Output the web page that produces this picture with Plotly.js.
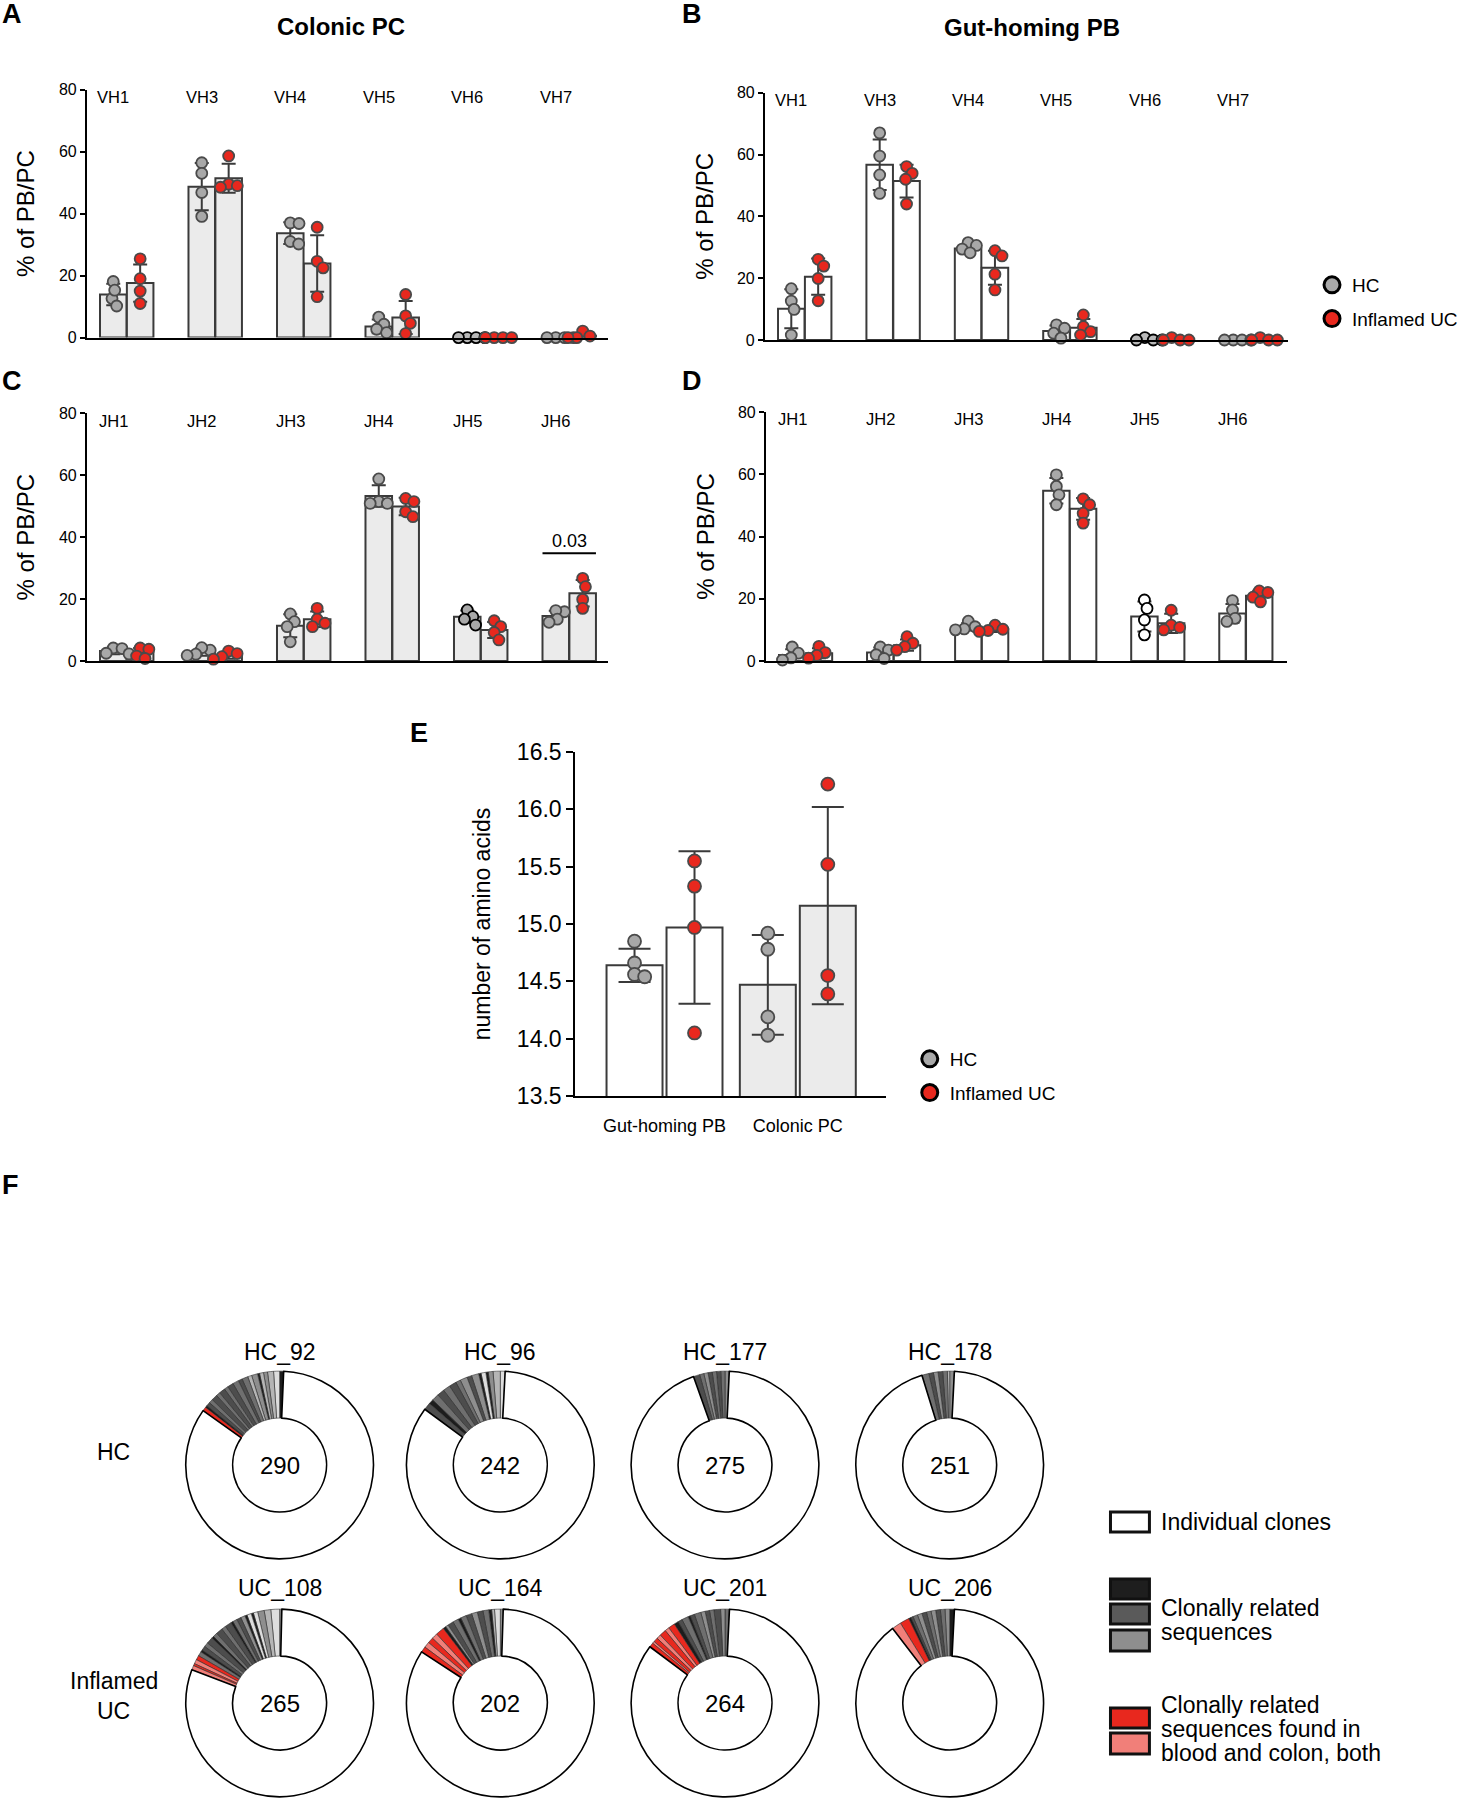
<!DOCTYPE html>
<html><head><meta charset="utf-8">
<script src="https://cdn.plot.ly/plotly-3.0.1.min.js"></script>
<style>html,body{margin:0;padding:0;background:#fff}#chart{width:1463px;height:1800px}</style>
</head><body><div id="chart"></div>
<script>
// ================= DATA =================
const vhGenes = ['VH1','VH3','VH4','VH5','VH6','VH7'];
const jhGenes = ['JH1','JH2','JH3','JH4','JH5','JH6'];

// Panel A – Colonic PC, VH usage (% of PB/PC)
const aHcMean = [13.9, 48.7, 33.7, 3.6, 0, 0];
const aHcSd   = [3.5, 7.6, 3.5, 2.2, 0, 0];
const aUcMean = [17.6, 51.4, 23.9, 6.5, 0, 0.6];
const aUcSd   = [6.0, 4.7, 9.1, 5.3, 0, 0.9];
const aHcPts  = [[18.1,12.6,15.3,10.2],[56.4,53.0,46.8,39.1],[37.0,36.8,31.0,30.2],[6.6,4.3,2.7,1.6],[0,0,0,0],[0,0,0,0]];
const aUcPts  = [[25.4,19.0,15.0,11.0],[58.6,49.5,48.5,49.0],[35.6,24.6,22.5,13.2],[13.9,7.0,4.6,1.3],[0,0,0,0],[2.1,0.5,0,0]];

// Panel B – Gut-homing PB, VH usage
const bHcMean = [10.1, 56.7, 29.6, 2.9, 0.2, 0];
const bHcSd   = [6.3, 8.2, 1.3, 1.8, 0.4, 0];
const bUcMean = [20.5, 51.4, 23.4, 4.0, 0.2, 0.2];
const bUcSd   = [5.9, 5.3, 5.5, 2.8, 0.4, 0.4];
const bHcPts  = [[16.6,12.6,9.9,1.6],[67.0,59.5,53.4,47.4],[31.5,30.6,29.4,28.2],[4.9,3.8,2.2,0.6],[0.8,0,0,0],[0,0,0,0]];
const bUcPts  = [[26.1,23.9,19.9,12.7],[56.1,53.9,52.0,44.0],[28.9,27.2,21.3,16.2],[8.1,4.3,2.7,1.6],[0.8,0,0,0],[0.8,0,0,0]];

// Panel C – Colonic PC, JH usage
const cHcMean = [3.2, 2.9, 11.4, 53.3, 14.3, 14.5];
const cHcSd   = [1.0, 1.2, 3.7, 3.5, 2.0, 1.7];
const cUcMean = [2.6, 1.9, 13.5, 49.9, 10.0, 21.9];
const cUcSd   = [1.6, 1.2, 2.5, 2.8, 2.6, 4.3];
const cHcPts  = [[4.2,4.0,2.5,2.3],[3.5,4.3,2.2,1.8],[15.2,12.7,11.1,6.2],[58.8,51.5,50.9,50.9],[16.5,14.3,13.5,11.6],[15.9,16.3,13.5,12.5]];
const cUcPts  = [[4.2,3.8,1.6,0.8],[3.2,2.4,1.4,0.6],[17.0,13.5,12.2,11.1],[52.5,51.5,48.2,46.6],[13.0,11.1,9.2,6.8],[26.7,24.0,19.9,17.0]];
const cPValueJH6 = '0.03';

// Panel D – Gut-homing PB, JH usage
const dHcMean = [1.9, 2.7, 11.0, 54.7, 14.3, 15.3];
const dHcSd   = [1.9, 1.6, 1.2, 4.1, 4.8, 3.0];
const dUcMean = [2.5, 5.1, 10.2, 48.9, 12.1, 21.0];
const dUcSd   = [1.6, 1.8, 0.9, 3.5, 3.1, 1.6];
const dHcPts  = [[4.5,2.5,1.0,0.3],[4.5,3.5,2.0,0.8],[12.8,11.0,10.3,10.0],[59.8,56.1,53.4,50.2],[19.6,16.9,13.2,8.4],[19.4,16.4,13.7,12.7]];
const dUcPts  = [[4.7,2.7,1.8,0.9],[7.8,5.7,4.6,3.5],[11.5,10.2,9.8,9.5],[52.1,50.2,47.5,44.3],[16.3,11.5,10.8,10.0],[22.5,22.0,20.5,19.0]];

// Panel E – CDR3 length (number of amino acids)
const eCats   = ['Gut-homing PB','Colonic PC'];
const eHcMean = [14.64, 14.47];
const eHcSd   = [0.145, 0.435];
const eUcMean = [14.97, 15.16];
const eUcSd   = [0.665, 0.86];
const eHcPts  = [[14.85,14.66,14.56,14.54],[14.92,14.78,14.19,14.03]];
const eUcPts  = [[15.55,15.33,14.97,14.05],[16.22,15.52,14.55,14.39]];

// Panel F – clonal families per donor (sizes, counter-clockwise from 12 o'clock)
const donorNames  = ['HC_92','HC_96','HC_177','HC_178','UC_108','UC_164','UC_201','UC_206'];
const donorTotals = [290, 242, 275, 251, 265, 202, 264, 250];
const donorTotalShown = [true, true, true, true, true, true, true, false];
const clonesHC92  = [2,3,3,2,2,1,3,2,3,2,3,3,2,3,2,3,2,2,1,2];
const shadesHC92  = 'kvlglkglmdmdmdmdmdkr';
const clonesHC96  = [2,3,2,1,2,1,3,2,3,2,3,3,3,3,2,3];
const shadesHC96  = 'vlgkvkgdgmdmdmkd';
const clonesHC177 = [2,2,2,2,2,2,2,3];
const shadesHC177 = 'gmdmdgmd';
const clonesHC178 = [2,1,2,2,2,2,3];
const shadesHC178 = 'glmdgdm';
const clonesUC108 = [1,4,3,3,2,1,2,1,2,2,2,1,3,2,3,2,1,3,2,2,1,2,2,2,1,2];
const shadesUC108 = 'gvlgvkvkgdmkdmdmkdmdkmrprp';
const clonesUC164 = [1,2,1,1,2,2,2,2,2,1,2,2,1,1,3,2,2,2,2];
const shadesUC164 = 'gvlkmdgdmkmdgkrprpr';
const clonesUC201 = [2,2,3,2,2,2,3,2,1,3,2,2,3,2,3,2,2,1,2];
const shadesUC201 = 'mgdmdgmdkmdkrprprpr';
const clonesUC206 = [2,2,2,2,2,2,2,2,2,1,1,4,4];
const shadesUC206 = 'kgmdgmdgmdkrp';

// ================= STYLE / LAYOUT =================
const W = 1463, H = 1800;
const FONT = 'Liberation Sans, Arial, Helvetica, sans-serif';
const shadeColor = {k:'#1c1c1c', d:'#4d4d4d', m:'#6f6f6f', g:'#8e8e8e', l:'#b5b5b5', v:'#dddddd', r:'#e8281e', p:'#f17f79'};
const HC_FILL = '#a8a8a8', UC_FILL = '#e8281e', DOT_LINE = '#4a4a4a', BAR_LINE = '#3a3a3a';
const px = p => p / W, py = p => 1 - p / H;

const panels = [
  {key:'A', xa:'x',  ya:'y',  cats:vhGenes, hcMean:aHcMean, hcSd:aHcSd, ucMean:aUcMean, ucSd:aUcSd, hcPts:aHcPts, ucPts:aUcPts,
   gx:[87,609], gy:[89.6,337.6], xr:[-0.45,5.44], yr:[0,80], fill:'#ebebeb', darkIdx:4, darkFill:'#b8b8b8'},
  {key:'B', xa:'x2', ya:'y2', cats:vhGenes, hcMean:bHcMean, hcSd:bHcSd, ucMean:bUcMean, ucSd:bUcSd, hcPts:bHcPts, ucPts:bUcPts,
   gx:[766,1290], gy:[92.7,340], xr:[-0.45,5.47], yr:[0,80], fill:'#ffffff', darkIdx:4, darkFill:'#b8b8b8'},
  {key:'C', xa:'x3', ya:'y3', cats:jhGenes, hcMean:cHcMean, hcSd:cHcSd, ucMean:cUcMean, ucSd:cUcSd, hcPts:cHcPts, ucPts:cUcPts,
   gx:[87,609], gy:[413.3,661], xr:[-0.45,5.44], yr:[0,80], fill:'#ebebeb', darkIdx:4, darkFill:'#a8a8a8'},
  {key:'D', xa:'x4', ya:'y4', cats:jhGenes, hcMean:dHcMean, hcSd:dHcSd, ucMean:dUcMean, ucSd:dUcSd, hcPts:dHcPts, ucPts:dUcPts,
   gx:[767,1289], gy:[412,661], xr:[-0.45,5.47], yr:[0,80], fill:'#ffffff', darkIdx:4, darkFill:'#ffffff'}
];
const BW = 0.3, OFF = 0.152, DOT = 11;

function swarmOffsets(vals, pxX, pxY, diam) {
  const order = vals.map((v,i)=>i).sort((a,b)=>vals[b]-vals[a]);
  const placed = [], out = new Array(vals.length).fill(0);
  order.forEach(i => {
    const y = vals[i]*pxY;
    const cands = [0];
    placed.forEach(p => {
      const dy = y - p.y;
      if (Math.abs(dy) < diam) { const dx = Math.sqrt(diam*diam - dy*dy); cands.push(p.x + dx, p.x - dx); }
    });
    cands.sort((a,b)=>Math.abs(a)-Math.abs(b) || b-a);
    let best = 0;
    for (const c of cands) {
      if (placed.every(p => Math.hypot(c-p.x, y-p.y) >= diam - 1e-6)) { best = c; break; }
    }
    placed.push({x:best, y:y});
    out[i] = best / pxX;
  });
  return out;
}

const traces = [];
const layout = {
  width: W, height: H, margin:{l:0,r:0,t:0,b:0},
  paper_bgcolor:'#ffffff', plot_bgcolor:'rgba(0,0,0,0)',
  barmode:'overlay', font:{family:FONT, color:'#000', size:16},
  showlegend:true, annotations:[], shapes:[]
};

function addBarPanel(P, opts) {
  const pxX = (P.gx[1]-P.gx[0])/(P.xr[1]-P.xr[0]);
  const pxY = (P.gy[1]-P.gy[0])/(P.yr[1]-P.yr[0]);
  const groups = [['hc',-1,HC_FILL],['uc',1,UC_FILL]];
  groups.forEach(([g, sgn]) => {
    traces.push({type:'bar', xaxis:P.xa, yaxis:P.ya,
      x:P.cats.map((c,i)=>i+sgn*opts.off), y:P[g+'Mean'], width:opts.bw,
      marker:{color: opts.fillArr || P.fill, line:{color:BAR_LINE, width:2}},
      error_y:{type:'data', array:P[g+'Sd'], visible:true, color:BAR_LINE, thickness:2, width:opts.cap},
      hoverinfo:'skip', showlegend:false});
  });
  groups.forEach(([g, sgn, dotFill]) => {
    const xs=[], ys=[], lc=[], fc=[];
    P[g+'Pts'].forEach((pts,i) => {
      const offs = swarmOffsets(pts, pxX, pxY, opts.dot*opts.sep);
      pts.forEach((v,j) => {
        xs.push(i + sgn*opts.off + offs[j]); ys.push(v);
        const dark = (g==='hc' && P.darkIdx===i);
        lc.push(dark ? '#000' : DOT_LINE);
        fc.push(dark ? P.darkFill : dotFill);
      });
    });
    traces.push({type:'scatter', mode:'markers', xaxis:P.xa, yaxis:P.ya, x:xs, y:ys, cliponaxis:false,
      marker:{size:opts.dot, color:fc, line:{color:lc, width:1.8}}, hoverinfo:'y', showlegend:false});
  });
}

function axisPair(P, yTitle, opts) {
  const xn = P.xa === 'x' ? 'xaxis' : 'xaxis' + P.xa.slice(1);
  const yn = P.ya === 'y' ? 'yaxis' : 'yaxis' + P.ya.slice(1);
  layout[xn] = Object.assign({domain:[px(P.gx[0]), px(P.gx[1])], range:P.xr, anchor:P.ya,
    showline:true, linewidth:2, linecolor:'#000', showgrid:false, zeroline:false,
    showticklabels:false, ticks:'', fixedrange:true}, opts.x || {});
  layout[yn] = Object.assign({domain:[py(P.gy[1]), py(P.gy[0])], range:P.yr, anchor:P.xa,
    showline:true, linewidth:2, linecolor:'#000', showgrid:false, zeroline:false,
    ticks:'outside', ticklen:5, tickwidth:2, tickcolor:'#000', dtick:20, tick0:0,
    tickfont:{size:16, family:FONT}, fixedrange:true,
    title:{text:yTitle, font:{size:24, family:FONT}, standoff:17}}, opts.y || {});
}

panels.forEach(P => {
  addBarPanel(P, {bw:BW, off:OFF, cap:7, dot:DOT, sep:0.8});
  axisPair(P, '% of PB/PC', {});
  P.cats.forEach((c,i) => layout.annotations.push({xref:P.xa, yref:P.ya+' domain', x:i-OFF, y:0.97,
    text:c, showarrow:false, font:{size:16.5}}));
});

// Panel E
const PE = {key:'E', xa:'x5', ya:'y5', cats:eCats, hcMean:eHcMean, hcSd:eHcSd, ucMean:eUcMean, ucSd:eUcSd,
  hcPts:eHcPts, ucPts:eUcPts, gx:[576,887], gy:[752,1096], xr:[-0.67,1.66], yr:[13.5,16.5], darkIdx:-1};
addBarPanel(PE, {bw:0.42, off:0.225, cap:16, dot:13, sep:0.8, fillArr:['#ffffff','#ebebeb']});
axisPair(PE, 'number of amino acids', {
  x:{showticklabels:true, tickvals:[0,1], ticktext:eCats, ticks:'outside', ticklen:12, tickcolor:'rgba(0,0,0,0)', tickfont:{size:18}},
  y:{dtick:0.5, tick0:13.5, tickformat:'.1f', ticklen:7, tickfont:{size:23}, title:{text:'number of amino acids', font:{size:23, family:FONT}, standoff:20}}
});

// Legend-only entries (no data)
function legendEntry(name, fill, legendId, group) {
  traces.push({type:'scatter', mode:'markers', x:[null], y:[null], xaxis:'x2', yaxis:'y2', name:name,
    legend:legendId, legendgroup:group, marker:{size:16, color:fill, line:{color:'#000', width:3}}, hoverinfo:'skip'});
}
legendEntry('HC', HC_FILL, 'legend', 'g1');
legendEntry('Inflamed UC', UC_FILL, 'legend', 'g2');
legendEntry('HC', HC_FILL, 'legend2', 'g3');
legendEntry('Inflamed UC', UC_FILL, 'legend2', 'g4');
layout.legend  = {x:px(1314), xanchor:'left', y:py(266), yanchor:'top', font:{size:19}, bgcolor:'rgba(0,0,0,0)', traceorder:'grouped', tracegroupgap:6, itemsizing:'trace'};
layout.legend2 = {x:px(911), xanchor:'left', y:py(1040), yanchor:'top', font:{size:19}, bgcolor:'rgba(0,0,0,0)', traceorder:'grouped', tracegroupgap:6, itemsizing:'trace'};

// significance bar in C
layout.shapes.push({type:'line', xref:'x3', yref:'y3', x0:5-OFF-BW/2, x1:5+OFF+BW/2, y0:34.8, y1:34.8, line:{color:'#000', width:2}});
layout.annotations.push({xref:'x3', yref:'y3', x:5, y:38.6, text:cPValueJH6, showarrow:false, font:{size:18}});

// Titles and panel letters
layout.annotations.push({xref:'paper', yref:'paper', x:px(341), y:py(26), text:'<b>Colonic PC</b>', showarrow:false, font:{size:24}});
layout.annotations.push({xref:'paper', yref:'paper', x:px(1033), y:py(27), text:'<b>Gut-homing PB</b>', showarrow:false, font:{size:24}});
[['A',0,14],['B',681,14],['C',0,381],['D',681,381],['E',409,733],['F',0,1185]].forEach(([t,x,y]) =>
  layout.annotations.push({xref:'paper', yref:'paper', x:px(x), y:py(y), xanchor:'left', text:'<b>'+t+'</b>', showarrow:false, font:{size:27}}));

// Panel F donuts
const donorClones = [clonesHC92, clonesHC96, clonesHC177, clonesHC178, clonesUC108, clonesUC164, clonesUC201, clonesUC206];
const donorShades = [shadesHC92, shadesHC96, shadesHC177, shadesHC178, shadesUC108, shadesUC164, shadesUC201, shadesUC206];
const donutCX = [280, 501, 726, 951], donutCY = [1465, 1703], donutR = 94;
const donutTitleY = [1352, 1588];
donorNames.forEach((name, k) => {
  const cx = donutCX[k % 4], cy = donutCY[Math.floor(k/4)];
  const sizes = donorClones[k];
  const shades = donorShades[k].split('');
  const used = sizes.reduce((a,b)=>a+b, 0);
  const values = sizes.concat([donorTotals[k] - used]);
  const colors = shades.map(s => shadeColor[s]).concat(['#ffffff']);
  const lcol = sizes.map(()=> '#2a2a2a').concat(['#000']);
  const lwid = sizes.map(()=> 0.6).concat([1.6]);
  traces.push({type:'pie', values:values, labels:values.map((v,j)=> j<sizes.length ? name+' family '+(j+1) : name+' individual clones'),
    sort:false, direction:'counterclockwise', rotation:0, hole:0.5, textinfo:'none', hoverinfo:'label+value',
    marker:{colors:colors, line:{color:lcol, width:lwid}}, showlegend:false,
    domain:{x:[px(cx-donutR), px(cx+donutR)], y:[py(cy+donutR), py(cy-donutR)]}});
  layout.annotations.push({xref:'paper', yref:'paper', x:px(cx), y:py(donutTitleY[Math.floor(k/4)]), text:name, showarrow:false, font:{size:23}});
  if (donorTotalShown[k]) layout.annotations.push({xref:'paper', yref:'paper', x:px(cx), y:py(cy), text:String(donorTotals[k]), showarrow:false, font:{size:24}});
});
layout.annotations.push({xref:'paper', yref:'paper', x:px(114), y:py(1452), text:'HC', showarrow:false, font:{size:23}});
layout.annotations.push({xref:'paper', yref:'paper', x:px(114), y:py(1681), text:'Inflamed', showarrow:false, font:{size:23}});
layout.annotations.push({xref:'paper', yref:'paper', x:px(114), y:py(1711), text:'UC', showarrow:false, font:{size:23}});

// Panel F legend (swatches + labels)
function swatch(y0, y1, color) {
  layout.shapes.push({type:'rect', xref:'paper', yref:'paper', x0:px(1112), x1:px(1151), y0:py(y1), y1:py(y0),
    fillcolor:color, line:{color:'#111', width:3}});
}
swatch(1512, 1532, '#ffffff');
swatch(1579, 1599, '#1e1e1e'); swatch(1604, 1624, '#5a5a5a'); swatch(1630, 1651, '#8e8e8e');
swatch(1708, 1728, '#e8281e'); swatch(1733, 1754, '#f17f79');
[['Individual clones',1522],['Clonally related',1608],['sequences',1632],
 ['Clonally related',1705],['sequences found in',1729],['blood and colon, both',1753]].forEach(([t,y]) =>
  layout.annotations.push({xref:'paper', yref:'paper', x:px(1161), y:py(y), xanchor:'left', text:t, showarrow:false, font:{size:23}}));

// explicit anchors for every annotation
layout.annotations.forEach(a => { if (!a.xanchor) a.xanchor = 'center'; if (!a.yanchor) a.yanchor = 'middle'; });

Plotly.newPlot('chart', traces, layout, {displayModeBar:false, staticPlot:true});
</script>
</body></html>
